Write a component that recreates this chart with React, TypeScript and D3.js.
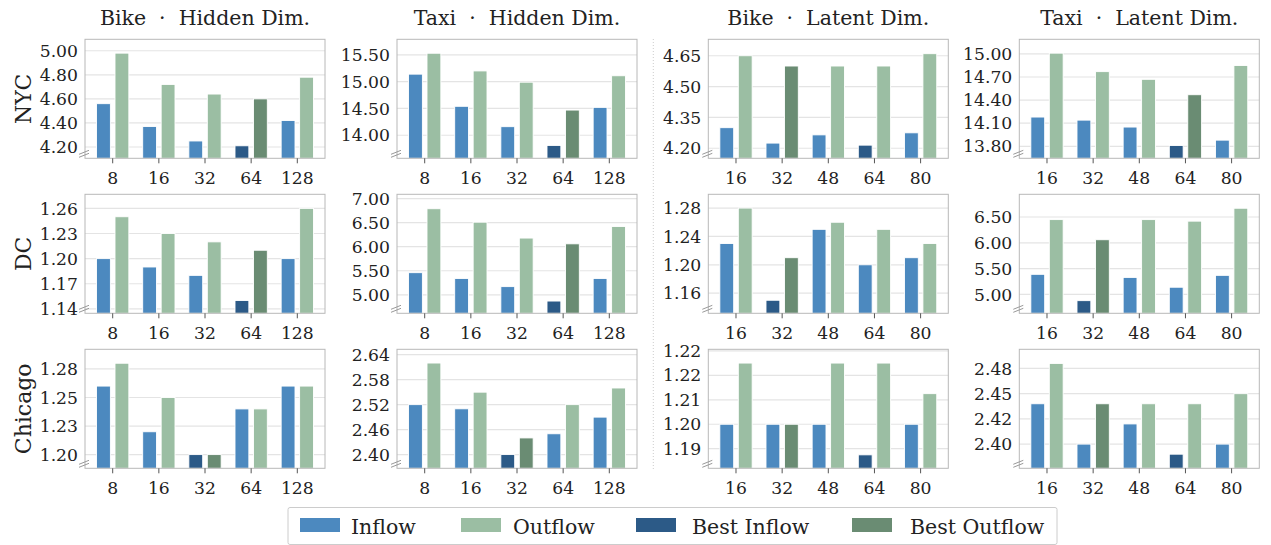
import React from "react";
import * as d3 from "d3";

// ---------- data ----------
const rowNames = ["NYC", "DC", "Chicago"];
const colTitles = ["Bike  ·  Hidden Dim.", "Taxi  ·  Hidden Dim.", "Bike  ·  Latent Dim.", "Taxi  ·  Latent Dim."];
const hiddenDims = ["8", "16", "32", "64", "128"];
const latentDims = ["16", "32", "48", "64", "80"];

// NYC
const nycBikeHiddenIn = [4.56, 4.37, 4.25, 4.21, 4.42];
const nycBikeHiddenOut = [4.98, 4.72, 4.64, 4.6, 4.78];
const nycTaxiHiddenIn = [15.14, 14.54, 14.16, 13.81, 14.52];
const nycTaxiHiddenOut = [15.53, 15.2, 14.99, 14.47, 15.11];
const nycBikeLatentIn = [4.3, 4.225, 4.265, 4.215, 4.275];
const nycBikeLatentOut = [4.65, 4.6, 4.6, 4.6, 4.66];
const nycTaxiLatentIn = [14.18, 14.14, 14.05, 13.81, 13.88];
const nycTaxiLatentOut = [15.01, 14.77, 14.67, 14.47, 14.85];
// DC
const dcBikeHiddenIn = [1.2, 1.19, 1.18, 1.15, 1.2];
const dcBikeHiddenOut = [1.25, 1.23, 1.22, 1.21, 1.26];
const dcTaxiHiddenIn = [5.46, 5.34, 5.17, 4.87, 5.34];
const dcTaxiHiddenOut = [6.79, 6.51, 6.18, 6.06, 6.42];
const dcBikeLatentIn = [1.23, 1.15, 1.25, 1.2, 1.21];
const dcBikeLatentOut = [1.28, 1.21, 1.26, 1.25, 1.23];
const dcTaxiLatentIn = [5.39, 4.88, 5.33, 5.14, 5.37];
const dcTaxiLatentOut = [6.45, 6.06, 6.45, 6.42, 6.67];
// Chicago
const chiBikeHiddenIn = [1.26, 1.22, 1.2, 1.24, 1.26];
const chiBikeHiddenOut = [1.28, 1.25, 1.2, 1.24, 1.26];
const chiTaxiHiddenIn = [2.52, 2.51, 2.4, 2.45, 2.49];
const chiTaxiHiddenOut = [2.62, 2.55, 2.44, 2.52, 2.56];
const chiBikeLatentIn = [1.2, 1.2, 1.2, 1.19, 1.2];
const chiBikeLatentOut = [1.22, 1.2, 1.22, 1.22, 1.21];
const chiTaxiLatentIn = [2.44, 2.4, 2.42, 2.39, 2.4];
const chiTaxiLatentOut = [2.48, 2.44, 2.44, 2.44, 2.45];

// y-axis ticks / labels / limits
const ticksNycBikeHidden = [4.2, 4.4, 4.6, 4.8, 5.0];
const ticksNycTaxiHidden = [14.0, 14.5, 15.0, 15.5];
const ticksNycBikeLatent = [4.2, 4.35, 4.5, 4.65];
const ticksNycTaxiLatent = [13.8, 14.1, 14.4, 14.7, 15.0];
const ticksDcBikeHidden = [1.14, 1.17, 1.2, 1.23, 1.26];
const ticksDcTaxiHidden = [5.0, 5.5, 6.0, 6.5, 7.0];
const ticksDcBikeLatent = [1.16, 1.2, 1.24, 1.28];
const ticksDcTaxiLatent = [5.0, 5.5, 6.0, 6.5];
const ticksChiBikeHidden = [1.2, 1.225, 1.25, 1.275];
const labelsChiBikeHidden = ["1.20", "1.23", "1.25", "1.28"];
const ticksChiTaxiHidden = [2.4, 2.46, 2.52, 2.58, 2.64];
const ticksChiBikeLatent = [1.192, 1.2, 1.208, 1.216, 1.224];
const labelsChiBikeLatent = ["1.19", "1.20", "1.21", "1.22", "1.22"];
const ticksChiTaxiLatent = [2.4, 2.425, 2.45, 2.475];
const labelsChiTaxiLatent = ["2.40", "2.42", "2.45", "2.48"];

const limNycBikeHidden = [4.106, 5.095];
const limNycTaxiHidden = [13.57, 15.79];
const limNycBikeLatent = [4.151, 4.73];
const limNycTaxiLatent = [13.644, 15.19];
const limDcBikeHidden = [1.1347, 1.2768];
const limDcTaxiHidden = [4.615, 7.09];
const limDcBikeLatent = [1.1316, 1.2994];
const limDcTaxiLatent = [4.635, 6.94];
const limChiBikeHidden = [1.188, 1.2922];
const limChiTaxiHidden = [2.367, 2.653];
const limChiBikeLatent = [1.1856, 1.2245];
const limChiTaxiLatent = [2.376, 2.494];

const legendLabels = ["Inflow", "Outflow", "Best Inflow", "Best Outflow"];

type Panel = {
  cats: string[];
  inflow: number[];
  outflow: number[];
  ticks: number[];
  labels?: string[];
  lim: number[];
};

const panels: Panel[][] = [
  [
    { cats: hiddenDims, inflow: nycBikeHiddenIn, outflow: nycBikeHiddenOut, ticks: ticksNycBikeHidden, lim: limNycBikeHidden },
    { cats: hiddenDims, inflow: nycTaxiHiddenIn, outflow: nycTaxiHiddenOut, ticks: ticksNycTaxiHidden, lim: limNycTaxiHidden },
    { cats: latentDims, inflow: nycBikeLatentIn, outflow: nycBikeLatentOut, ticks: ticksNycBikeLatent, lim: limNycBikeLatent },
    { cats: latentDims, inflow: nycTaxiLatentIn, outflow: nycTaxiLatentOut, ticks: ticksNycTaxiLatent, lim: limNycTaxiLatent },
  ],
  [
    { cats: hiddenDims, inflow: dcBikeHiddenIn, outflow: dcBikeHiddenOut, ticks: ticksDcBikeHidden, lim: limDcBikeHidden },
    { cats: hiddenDims, inflow: dcTaxiHiddenIn, outflow: dcTaxiHiddenOut, ticks: ticksDcTaxiHidden, lim: limDcTaxiHidden },
    { cats: latentDims, inflow: dcBikeLatentIn, outflow: dcBikeLatentOut, ticks: ticksDcBikeLatent, lim: limDcBikeLatent },
    { cats: latentDims, inflow: dcTaxiLatentIn, outflow: dcTaxiLatentOut, ticks: ticksDcTaxiLatent, lim: limDcTaxiLatent },
  ],
  [
    { cats: hiddenDims, inflow: chiBikeHiddenIn, outflow: chiBikeHiddenOut, ticks: ticksChiBikeHidden, labels: labelsChiBikeHidden, lim: limChiBikeHidden },
    { cats: hiddenDims, inflow: chiTaxiHiddenIn, outflow: chiTaxiHiddenOut, ticks: ticksChiTaxiHidden, lim: limChiTaxiHidden },
    { cats: latentDims, inflow: chiBikeLatentIn, outflow: chiBikeLatentOut, ticks: ticksChiBikeLatent, labels: labelsChiBikeLatent, lim: limChiBikeLatent },
    { cats: latentDims, inflow: chiTaxiLatentIn, outflow: chiTaxiLatentOut, ticks: ticksChiTaxiLatent, labels: labelsChiTaxiLatent, lim: limChiTaxiLatent },
  ],
];

// ---------- style ----------
const W = 1271;
const H = 545;
const FONT = "'DejaVu Serif', serif";
const C_IN = "#4c89bf";
const C_OUT = "#9bbea3";
const C_BIN = "#2c5a87";
const C_BOUT = "#6a8c73";
const colLeft = [85, 397, 708.3, 1019.3];
const rowTop = [39.3, 194.3, 349.3];
const PW = 240;
const PH = 119;

function PanelView({ p, x0, y0 }: { p: Panel; x0: number; y0: number }) {
  const x = d3.scaleLinear().domain([-0.6, p.cats.length - 0.4]).range([x0, x0 + PW]);
  const y = d3.scaleLinear().domain(p.lim).range([y0 + PH, y0]);
  const bottom = y0 + PH;
  const bestIn = d3.minIndex(p.inflow);
  const bestOut = d3.minIndex(p.outflow);
  const fmt = d3.format(".2f");
  const off = 0.2;
  const bw = 0.3;
  return (
    <g>
      <rect x={x0} y={y0} width={PW} height={PH} fill="#ffffff" />
      {p.ticks.map((t, i) => (
        <line key={"g" + i} x1={x0} x2={x0 + PW} y1={y(t)} y2={y(t)} stroke="#e4e4e4" strokeWidth={1.2} />
      ))}
      {p.cats.map((c, i) => {
        const vIn = p.inflow[i];
        const vOut = p.outflow[i];
        return (
          <g key={"b" + i}>
            <rect
              x={x(i - off - bw / 2)}
              y={y(vIn)}
              width={x(bw) - x(0)}
              height={bottom - y(vIn)}
              fill={i === bestIn ? C_BIN : C_IN}
              stroke="#ffffff"
              strokeWidth={0.9}
            />
            <rect
              x={x(i + off - bw / 2)}
              y={y(vOut)}
              width={x(bw) - x(0)}
              height={bottom - y(vOut)}
              fill={i === bestOut ? C_BOUT : C_OUT}
              stroke="#ffffff"
              strokeWidth={0.9}
            />
          </g>
        );
      })}
      <rect x={x0} y={y0} width={PW} height={PH} fill="none" stroke="#b8b8b8" strokeWidth={1} />
      {p.cats.map((c, i) => (
        <g key={"x" + i}>
          <line x1={x(i)} x2={x(i)} y1={bottom} y2={bottom + 5} stroke="#555" strokeWidth={1} />
          <text x={x(i)} y={bottom + 26} textAnchor="middle" fontSize={17.2} fontFamily={FONT} fill="#222">
            {c}
          </text>
        </g>
      ))}
      {p.ticks.map((t, i) => (
        <text key={"y" + i} x={x0 - 7} y={y(t)} dy="0.36em" textAnchor="end" fontSize={17.2} fontFamily={FONT} fill="#222">
          {p.labels ? p.labels[i] : fmt(t)}
        </text>
      ))}
      {/* axis break marks */}
      <line x1={x0 - 6} y1={bottom - 1} x2={x0 + 4} y2={bottom - 5} stroke="#999" strokeWidth={1} />
      <line x1={x0 - 6} y1={bottom - 4} x2={x0 + 4} y2={bottom - 8} stroke="#999" strokeWidth={1} />
    </g>
  );
}

export default function App() {
  const legendColors = [C_IN, C_OUT, C_BIN, C_BOUT];
  const legendSwatchX = [300, 461, 636, 852];
  const legendTextX = [351, 513, 692, 910];
  return (
    <svg width={W} height={H} style={{ position: "absolute", left: 0, top: 0, background: "#fff" }}>
      <rect x={0} y={0} width={W} height={H} fill="#fff" />
      {colTitles.map((t, j) => (
        <text
          key={"t" + j}
          x={colLeft[j] + PW / 2}
          y={25}
          textAnchor="middle"
          fontSize={20.5}
          fontFamily={FONT}
          fill="#222"
          style={{ whiteSpace: "pre" }}
        >
          {t}
        </text>
      ))}
      {rowNames.map((r, i) => (
        <text
          key={"r" + i}
          transform={`translate(31,${rowTop[i] + PH / 2}) rotate(-90)`}
          textAnchor="middle"
          fontSize={22}
          fontFamily={FONT}
          fill="#222"
        >
          {r}
        </text>
      ))}
      <line x1={653.3} x2={653.3} y1={39} y2={469} stroke="#cccccc" strokeWidth={1} strokeDasharray="1,2" />
      {panels.map((row, i) =>
        row.map((p, j) => <PanelView key={i + "-" + j} p={p} x0={colLeft[j]} y0={rowTop[i]} />)
      )}
      <g>
        <rect x={288} y={507.5} width={769} height={37} fill="#fff" stroke="#cccccc" strokeWidth={1} rx={2} />
        {legendLabels.map((l, k) => (
          <g key={"l" + k}>
            <rect x={legendSwatchX[k]} y={518} width={40} height={14} fill={legendColors[k]} />
            <text x={legendTextX[k]} y={534} fontSize={20.5} fontFamily={FONT} fill="#222">
              {l}
            </text>
          </g>
        ))}
      </g>
    </svg>
  );
}
